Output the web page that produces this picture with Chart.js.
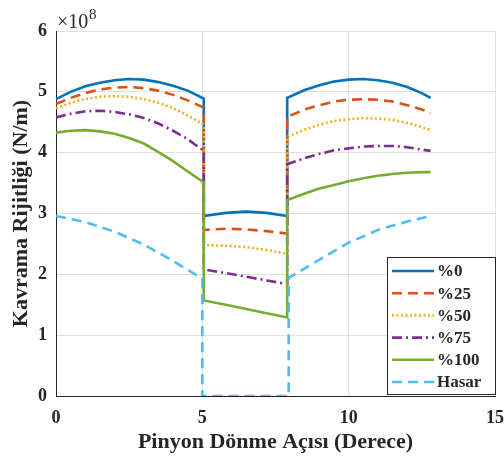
<!DOCTYPE html>
<html>
<head>
<meta charset="utf-8">
<script src="https://cdn.jsdelivr.net/npm/chart.js@4"></script>
<style>
  html, body { margin: 0; padding: 0; background: #fff; }
  #wrap { width: 504px; height: 464px; }
</style>
</head>
<body>
<div id="wrap"><canvas id="stiffChart" width="504" height="464"></canvas></div>
<script>
const SERIF = '"Liberation Serif", "Times New Roman", serif';

// pinion angle (deg), shared by the five crack levels
const angle = [0, 0.5, 1, 1.5, 2, 2.5, 3, 3.5, 4, 4.5, 5.05,
  5.05, 5.8, 6.5, 7.2, 7.9,
  7.9, 8.5, 9, 9.5, 10, 10.5, 11, 11.5, 12, 12.5, 12.8];

// mesh stiffness, x1e8 N/m
const k0 = [4.88, 5.00, 5.09, 5.15, 5.19, 5.21, 5.20, 5.16, 5.10, 5.02, 4.89,
  2.96, 3.01, 3.03, 3.01, 2.96,
  4.90, 5.03, 5.11, 5.17, 5.20, 5.21, 5.19, 5.15, 5.08, 4.98, 4.90];
const k25 = [4.80, 4.90, 4.98, 5.04, 5.07, 5.08, 5.06, 5.02, 4.95, 4.86, 4.74,
  2.73, 2.75, 2.74, 2.71, 2.67,
  4.59, 4.71, 4.78, 4.84, 4.87, 4.88, 4.87, 4.84, 4.78, 4.71, 4.65];
const k50 = [4.73, 4.82, 4.88, 4.92, 4.93, 4.92, 4.88, 4.82, 4.73, 4.61, 4.46,
  2.48, 2.47, 2.45, 2.40, 2.34,
  4.26, 4.38, 4.46, 4.52, 4.55, 4.57, 4.56, 4.54, 4.49, 4.42, 4.37];
const k75 = [4.58, 4.64, 4.68, 4.69, 4.67, 4.63, 4.57, 4.48, 4.36, 4.22, 4.03,
  2.08, 2.02, 1.96, 1.90, 1.84,
  3.81, 3.91, 3.98, 4.04, 4.07, 4.10, 4.11, 4.11, 4.09, 4.05, 4.03];
const k100 = [4.33, 4.36, 4.37, 4.35, 4.31, 4.24, 4.15, 4.01, 3.86, 3.69, 3.51,
  1.57, 1.50, 1.43, 1.36, 1.29,
  3.22, 3.33, 3.41, 3.47, 3.53, 3.58, 3.62, 3.65, 3.67, 3.68, 3.68];

// broken tooth ("Hasar") has its own angle list
const hasarAngle = [0, 1, 2, 3, 4, 5, 5, 7.95, 7.95, 9, 10, 11, 12, 12.8];
const hasar = [2.96, 2.86, 2.70, 2.49, 2.22, 1.93, 0, 0, 1.94, 2.24, 2.52, 2.73, 2.87, 2.96];

const xTicks = [0, 5, 10, 15];
const yTicks = [0, 1, 2, 3, 4, 5, 6];

function pts(xs, ys) {
  return xs.map((x, i) => ({ x: x, y: ys[i] }));
}

function line(label, xs, ys, color, dash, order) {
  return {
    label: label,
    data: pts(xs, ys),
    borderColor: color,
    borderWidth: 2.6,
    borderDash: dash,
    pointRadius: 0,
    tension: 0,
    fill: false,
    order: order,
  };
}

const datasets = [
  line("%0", angle, k0, "#0072BD", [], 5),
  line("%25", angle, k25, "#D95319", [10, 6], 4),
  line("%50", angle, k50, "#EDB120", [2, 2.5], 3),
  line("%75", angle, k75, "#7E2F8E", [10, 4, 2, 4], 2),
  line("%100", angle, k100, "#77AC30", [], 1),
  line("Hasar", hasarAngle, hasar, "#4DBEEE", [10, 6], 0),
];

// x10^8 label and boxed legend inside the axes
const extras = {
  id: "extras",
  afterDraw(chart) {
    const c = chart.ctx;
    const a = chart.chartArea;
    c.save();
    c.fillStyle = "#262626";
    c.textBaseline = "alphabetic";
    c.textAlign = "left";
    c.font = "20px " + SERIF;
    c.fillText("\u00d710", a.left + 1, 28);
    c.font = "15px " + SERIF;
    c.fillText("8", a.left + 33, 19);

    const bx = 387, by = 257, bw = 108, bh = 137;
    c.fillStyle = "#fff";
    c.fillRect(bx, by, bw, bh);
    c.strokeStyle = "#262626";
    c.lineWidth = 1;
    c.strokeRect(bx + 0.5, by + 0.5, bw, bh);
    c.font = "bold 17px " + SERIF;
    c.textBaseline = "middle";
    chart.data.datasets.forEach((ds, i) => {
      const y = by + 14 + i * 22.2;
      c.strokeStyle = ds.borderColor;
      c.lineWidth = ds.borderWidth;
      c.setLineDash(ds.borderDash);
      c.beginPath();
      c.moveTo(392, y);
      c.lineTo(434, y);
      c.stroke();
      c.setLineDash([]);
      c.fillStyle = "#262626";
      c.fillText(ds.label, 437, y + 1);
    });
    c.restore();
  },
};

new Chart(document.getElementById("stiffChart"), {
  type: "line",
  data: { datasets: datasets },
  options: {
    responsive: false,
    animation: false,
    layout: { padding: { top: 31, right: 9, left: 0, bottom: 0 } },
    plugins: {
      legend: { display: false },
      tooltip: { enabled: false },
    },
    scales: {
      x: {
        type: "linear",
        min: 0,
        max: 15,
        afterBuildTicks(axis) {
          axis.ticks = xTicks.map((v) => ({ value: v }));
        },
        afterFit(axis) {
          axis.height = 68;
          axis.paddingLeft = 0;
          axis.paddingRight = 0;
        },
        grid: { color: "#e0e0e0", lineWidth: 1, drawTicks: false },
        border: { color: "#262626", width: 1 },
        ticks: {
          color: "#262626",
          padding: 12,
          maxRotation: 0,
          font: { family: SERIF, size: 18, weight: "bold" },
        },
        title: {
          display: true,
          text: "Pinyon Dönme Açısı (Derece)",
          color: "#262626",
          padding: { top: 0, bottom: 8 },
          font: { family: SERIF, size: 22, weight: "bold" },
        },
      },
      y: {
        type: "linear",
        min: 0,
        max: 6,
        afterBuildTicks(axis) {
          axis.ticks = yTicks.map((v) => ({ value: v }));
        },
        afterFit(axis) {
          axis.width = 56;
          axis.paddingTop = 0;
          axis.paddingBottom = 0;
        },
        grid: { color: "#e0e0e0", lineWidth: 1, drawTicks: false },
        border: { color: "#262626", width: 1 },
        ticks: {
          color: "#262626",
          padding: 9,
          font: { family: SERIF, size: 18, weight: "bold" },
        },
        title: {
          display: true,
          text: "Kavrama Rijitliği (N/m)",
          color: "#262626",
          padding: { top: 8, bottom: 0 },
          font: { family: SERIF, size: 22, weight: "bold" },
        },
      },
    },
  },
  plugins: [extras],
});
</script>
</body>
</html>
